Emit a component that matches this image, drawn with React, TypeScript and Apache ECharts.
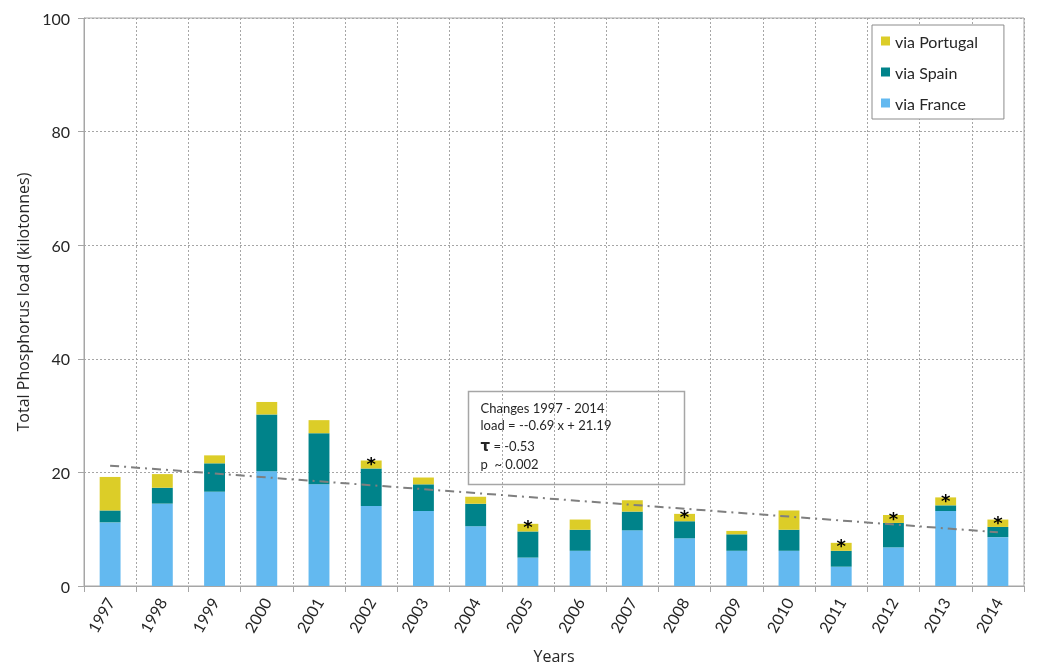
import React, { useEffect, useRef } from "react";
import * as echarts from "echarts";

const years = ["1997","1998","1999","2000","2001","2002","2003","2004","2005","2006","2007","2008","2009","2010","2011","2012","2013","2014"];
const viaFrance = [11.2, 14.5, 16.6, 20.2, 17.9, 14.1, 13.2, 10.5, 5.0, 6.2, 9.8, 8.4, 6.2, 6.2, 3.4, 6.8, 13.2, 8.6];
const viaSpain = [2.1, 2.8, 5.0, 10.0, 9.0, 6.6, 4.7, 4.0, 4.6, 3.7, 3.3, 3.0, 2.9, 3.7, 2.8, 4.3, 1.0, 1.8];
const viaPortugal = [5.9, 2.4, 1.4, 2.2, 2.3, 1.4, 1.2, 1.2, 1.35, 1.8, 2.0, 1.3, 0.6, 3.4, 1.4, 1.4, 1.4, 1.3];
const significant = [false, false, false, false, false, true, false, false, true, false, false, true, false, false, true, true, true, true];
const trendStart = 21.19;
const trendEnd = 9.46;
const yTicks = [0, 20, 40, 60, 80, 100];

const FONT = "Lato";
const TXT = "#262626";

export default function App() {
  const ref = useRef<HTMLDivElement>(null);
  useEffect(() => {
    const chart = echarts.init(ref.current!, null, { renderer: "svg" });
    const last = years.length - 1;
    const trend = years.map((_, i) => (i === 0 ? trendStart : i === last ? trendEnd : null));
    chart.setOption({
      animation: false,
      textStyle: { fontFamily: FONT },
      grid: {
        left: 84, right: 16, top: 18, bottom: 82,
        show: true, borderColor: "#a6a6a6", borderWidth: 1,
      },
      legend: {
        data: ["via Portugal", "via Spain", "via France"],
        orient: "vertical",
        left: 872, top: 25,
        padding: [8, 26, 8, 9],
        itemWidth: 9, itemHeight: 9, itemGap: 15,
        borderColor: "#8c8c8c", borderWidth: 1,
        backgroundColor: "#fff",
        icon: "rect",
        textStyle: { fontFamily: FONT, fontSize: 16, color: TXT },
      },
      xAxis: {
        type: "category",
        data: years,
        boundaryGap: true,
        name: "Years",
        nameLocation: "middle",
        nameGap: 62,
        nameTextStyle: { fontFamily: "Open Sans", fontSize: 16, color: TXT },
        axisLine: { lineStyle: { color: "#a6a6a6", width: 1 } },
        axisTick: { show: true, length: 6, lineStyle: { color: "#a6a6a6" } },
        axisLabel: { rotate: 60, margin: 13, fontFamily: FONT, fontSize: 16, color: TXT, interval: 0 },
        splitLine: { show: true, interval: 0, lineStyle: { color: "#a6a6a6", type: [2, 2], width: 1 } },
      },
      yAxis: {
        type: "value",
        min: yTicks[0],
        max: yTicks[yTicks.length - 1],
        interval: 20,
        name: "Total Phosphorus load (kilotonnes)",
        nameLocation: "middle",
        nameGap: 50,
        nameTextStyle: { fontFamily: "Open Sans", fontSize: 16, color: TXT },
        axisLine: { show: true, lineStyle: { color: "#a6a6a6", width: 1 } },
        axisTick: { show: true, length: 6, lineStyle: { color: "#a6a6a6" } },
        axisLabel: { margin: 14, fontFamily: FONT, fontSize: 16, color: TXT },
        splitLine: { show: true, lineStyle: { color: "#a6a6a6", type: [2, 2], width: 1 } },
      },
      series: [
        {
          name: "via France", type: "bar", stack: "total", data: viaFrance, barWidth: "40%",
          itemStyle: { color: "#63b9f0" },
        },
        {
          name: "via Spain", type: "bar", stack: "total", data: viaSpain, barWidth: "40%",
          itemStyle: { color: "#00838a" },
        },
        {
          name: "via Portugal", type: "bar", stack: "total", barWidth: "40%",
          data: viaPortugal.map((v, i) => ({
            value: v,
            label: significant[i]
              ? { show: true, position: "top", distance: -12, formatter: "*", fontSize: 18, fontWeight: "bold", color: "#000", fontFamily: "DejaVu Sans" }
              : { show: false },
          })),
          itemStyle: { color: "#dccd28" },
        },
        {
          name: "trend", type: "line", data: trend, connectNulls: true, symbol: "none", z: 5,
          lineStyle: { color: "#7f7f7f", width: 2, type: [9, 5, 2, 5] },
        },
      ],
      graphic: [
        {
          type: "group", left: 466, top: 389,
          children: [
            { type: "rect", shape: { x: 0, y: 0, width: 216, height: 93 }, style: { fill: "none", stroke: "#a6a6a6", lineWidth: 1.5 } },
            { type: "text", x: 12, y: 16, style: { text: "Changes 1997 - 2014", fontFamily: FONT, fontSize: 13, fill: TXT, verticalAlign: "middle" } },
            { type: "text", x: 12, y: 33, style: { text: "load = --0.69 x + 21.19", fontFamily: FONT, fontSize: 13, fill: TXT, verticalAlign: "middle" } },
            {
              type: "text", x: 12, y: 54,
              style: {
                text: "{b|τ} = -0.53",
                fontFamily: FONT, fontSize: 13, fill: TXT, verticalAlign: "middle",
                rich: { b: { fontFamily: "DejaVu Sans", fontWeight: "bold", fontSize: 15, fill: TXT } },
              },
            },
            { type: "text", x: 12, y: 72, style: { text: "p  ~ 0.002", fontFamily: FONT, fontSize: 13, fill: TXT, verticalAlign: "middle" } },
          ],
        },
      ],
    });
    return () => chart.dispose();
  }, []);
  return <div ref={ref} style={{ position: "fixed", left: 0, top: 0, width: 1040, height: 669 }} />;
}
